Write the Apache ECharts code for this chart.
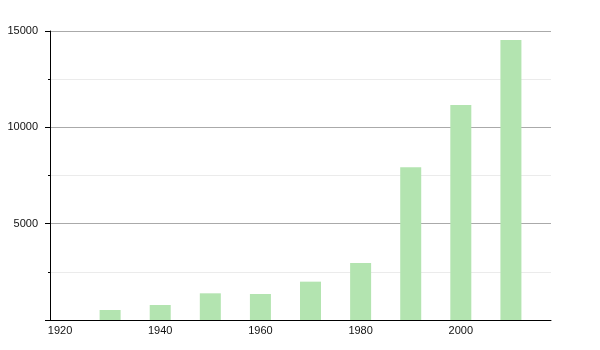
<!DOCTYPE html>
<html><head><meta charset="utf-8">
<script src="https://cdn.jsdelivr.net/npm/echarts@6/dist/echarts.min.js"></script>
<style>html,body{margin:0;padding:0;background:#fff}#c{width:600px;height:350px}</style>
</head><body><div id="c"></div>
<script>
const years = [1930, 1940, 1950, 1960, 1970, 1980, 1990, 2000, 2010];
const values = [520, 780, 1385, 1350, 1990, 2960, 7925, 11160, 14530];
const xTickLabels = [1920, 1940, 1960, 1980, 2000];
const yTickLabels = [5000, 10000, 15000];

const chart = echarts.init(document.getElementById('c'), null, {renderer: 'canvas'});
chart.setOption({
  animation: false,
  grid: {left: 50, right: 49, top: 31, bottom: 30, containLabel: false},
  xAxis: {
    type: 'value', min: 1918, max: 2018,
    axisLine: {show: true, lineStyle: {color: '#000', width: 1}},
    axisTick: {show: false},
    splitLine: {show: false},
    axisLabel: {customValues: xTickLabels, color: '#111', fontSize: 11, fontFamily: 'Liberation Sans, Arial', margin: 5,
      formatter: v => String(v)}
  },
  yAxis: {
    type: 'value', min: 0, max: 15000, interval: 5000,
    axisLine: {show: true, lineStyle: {color: '#000', width: 1}},
    axisTick: {show: true, length: 5, lineStyle: {color: '#000'}},
    minorTick: {show: true, splitNumber: 2, length: 2, lineStyle: {color: '#000'}},
    splitLine: {show: true, lineStyle: {color: '#aaa', width: 1}},
    minorSplitLine: {show: true, lineStyle: {color: '#ebebeb', width: 1}},
    axisLabel: {
      color: '#111', fontSize: 11, fontFamily: 'Liberation Sans, Arial', margin: 12,
      formatter: v => yTickLabels.includes(v) ? String(v) : ''
    }
  },
  series: [{
    type: 'bar',
    data: years.map((y, i) => [y, values[i]]),
    barWidth: 21,
    itemStyle: {color: '#b3e4b0'}
  }]
});
</script></body></html>
